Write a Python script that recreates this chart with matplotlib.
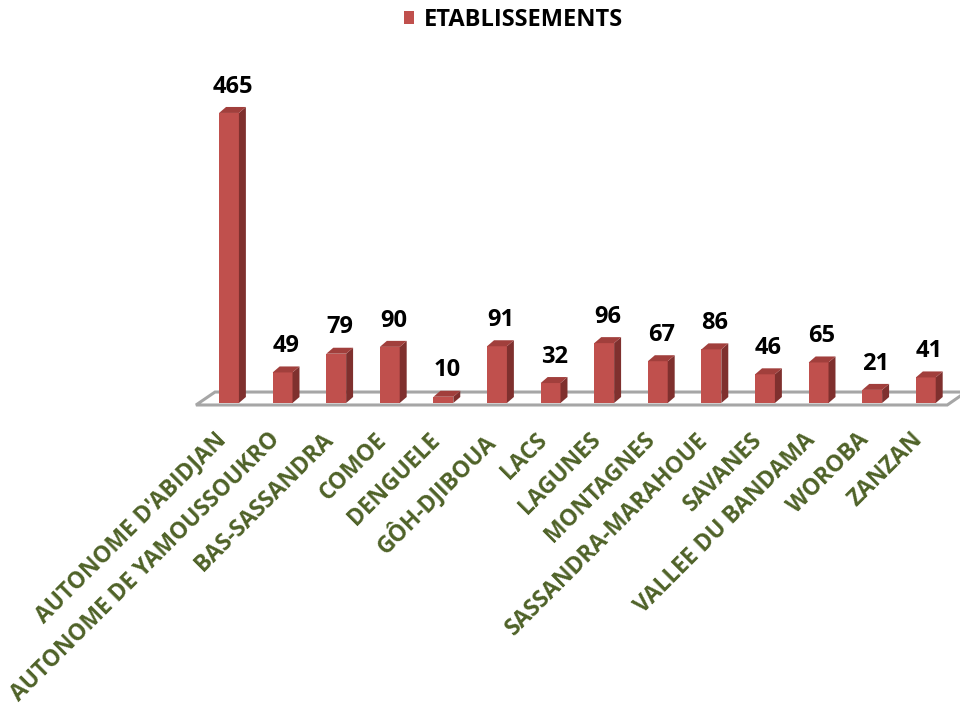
import matplotlib.pyplot as plt
from matplotlib.patches import Polygon

regions = ["AUTONOME D'ABIDJAN", "AUTONOME DE YAMOUSSOUKRO", "BAS-SASSANDRA", "COMOE",
           "DENGUELE", "GÔH-DJIBOUA", "LACS", "LAGUNES", "MONTAGNES",
           "SASSANDRA-MARAHOUE", "SAVANES", "VALLEE DU BANDAMA", "WOROBA", "ZANZAN"]
etablissements = [465, 49, 79, 90, 10, 91, 32, 96, 67, 86, 46, 65, 21, 41]
series_name = "ETABLISSEMENTS"

plt.rcParams['font.family'] = ['Open Sans', 'DejaVu Sans']

fig = plt.figure(figsize=(9.6, 7.03), dpi=100)
# axes placed so that bar i sits at 229 + 53.6*i px and 0 sits at 403 px from top
ax = fig.add_axes([175.4 / 960, 300 / 703, 804 / 960, 349.3 / 703])
ax.set_xlim(-1, 14)
ax.set_ylim(0, 560)
ax.axis('off')

front = '#C0504D'
side = '#7F302E'
top = '#A13F3C'
w = 0.37      # front face width (x units)
dx = 0.13     # depth offset in x units
dy = 9.6      # depth offset in data units

# floor
floor = Polygon([(-0.616, -3.2), (13.4, -3.2), (13.75, 17.6), (-0.261, 17.6)],
                closed=True, facecolor='white', edgecolor='#A6A6A6', lw=2.2,
                clip_on=False, zorder=1)
ax.add_patch(floor)

x = list(range(len(regions)))
bars = ax.bar(x, etablissements, width=w, color=front, label=series_name, zorder=3)
for xi, v in zip(x, etablissements):
    l, r = xi - w / 2, xi + w / 2
    ax.add_patch(Polygon([(r, 0), (r + dx, dy), (r + dx, v + dy), (r, v)],
                         closed=True, facecolor=side, edgecolor='none', zorder=3))
    ax.add_patch(Polygon([(l, v), (r, v), (r + dx, v + dy), (l + dx, v + dy)],
                         closed=True, facecolor=top, edgecolor='none', zorder=3))
    ax.text(xi + dx / 2, v + dy + 23, str(v), ha='center', va='baseline',
            fontsize=17, fontweight='bold', color='black')

for xi, name in zip(x, regions):
    ax.text(xi - 0.28, -40, name, rotation=45, ha='right', va='top',
            rotation_mode='anchor', fontsize=16.4, fontweight='bold', color='#4F6228')

fig.legend(handles=[bars], labels=[series_name], loc='center',
           bbox_to_anchor=(0.535, 0.972), frameon=False,
           handlelength=0.45, handleheight=0.45, handletextpad=0.42,
           prop={'weight': 'bold', 'size': 17})

fig.savefig('out.png', dpi=100)
